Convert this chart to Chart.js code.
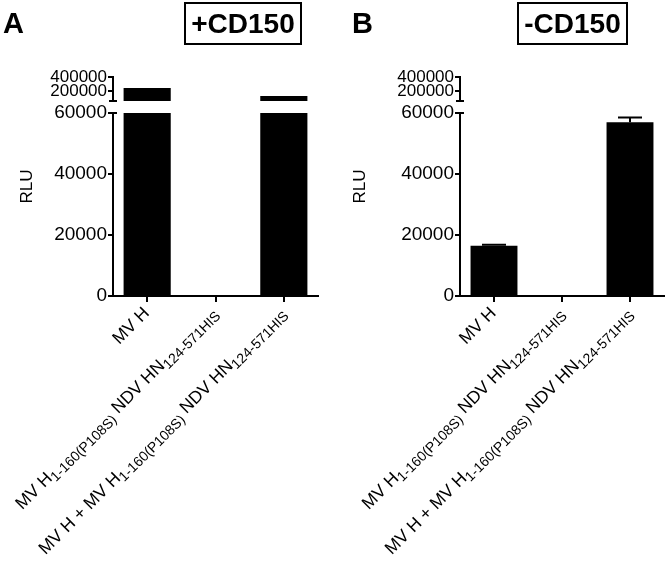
<!DOCTYPE html>
<html lang="en">
<head>
<meta charset="utf-8">
<title>RLU +CD150 / -CD150</title>
<script src="https://cdn.jsdelivr.net/npm/chart.js@4"></script>
<style>
  body { margin: 0; background: #fff; font-family: 'Liberation Sans', Arial, sans-serif; }
  #wrap { position: relative; width: 666px; height: 564px; overflow: hidden; }
  .panel { position: absolute; top: 0; width: 333px; height: 564px; }
  .letter { position: absolute; font-weight: bold; font-size: 29px; line-height: 28px; z-index: 2; }
  .tag {
    position: absolute; top: 2px; height: 43px; box-sizing: border-box;
    border: 2px solid #000; font-weight: bold; font-size: 28px;
    display: flex; align-items: center; justify-content: center; z-index: 2;
  }
</style>
</head>
<body>
<div id="wrap">
  <div class="panel" style="left:0"><canvas id="chartA" width="333" height="564"></canvas></div>
  <div class="panel" style="left:333px"><canvas id="chartB" width="333" height="564"></canvas></div>
  <div class="letter" style="left:3px; top:9px">A</div>
  <div class="tag" style="left:184px; width:118px">+CD150</div>
  <div class="letter" style="left:352px; top:9px">B</div>
  <div class="tag" style="left:517px; width:111px">-CD150</div>
</div>

<script>
  // categories, each split into [text, isSubscript] parts
  const categories = [
    'MV H',
    'MV H1-160(P108S) NDV HN124-571HIS',
    'MV H + MV H1-160(P108S) NDV HN124-571HIS'
  ];
  const categoryParts = [
    [['MV H', 0]],
    [['MV H', 0], ['1-160(P108S)', 1], [' NDV HN', 0], ['124-571HIS', 1]],
    [['MV H + MV H', 0], ['1-160(P108S)', 1], [' NDV HN', 0], ['124-571HIS', 1]]
  ];

  const rluWithCD150 = [245000, 0, 130000];
  const errWithCD150 = [0, 0, 0];
  const rluWithoutCD150 = [16500, 0, 57000];
  const errWithoutCD150 = [300, 0, 1500];

  const yTicks = [0, 20000, 40000, 60000, 200000, 400000];
  const breakValue = 60000;
  const yMax = 400000;

  // pixel split of the broken axis: lower part, gap, upper part
  const LOW_PX = 183, GAP_PX = 12, UP_PX = 24;
  const FONT = "'Liberation Sans', Arial, sans-serif";
  const MAIN_SIZE = 17.5, SUB_SIZE = 14;

  class BrokenScale extends Chart.LinearScale {
    buildTicks() {
      return yTicks.map(v => ({ value: v }));
    }
    segs() {
      const h = this.bottom - this.top;
      const k = h / (LOW_PX + GAP_PX + UP_PX);
      return { low: LOW_PX * k, gap: GAP_PX * k, up: UP_PX * k };
    }
    getPixelForValue(v) {
      if (v === null || v === undefined || isNaN(v)) return NaN;
      const s = this.segs();
      if (v <= breakValue) return this.bottom - (v / breakValue) * s.low;
      return this.bottom - s.low - s.gap - ((v - breakValue) / (yMax - breakValue)) * s.up;
    }
    getValueForPixel(p) {
      const s = this.segs();
      const d = this.bottom - p;
      if (d <= s.low) return d / s.low * breakValue;
      return breakValue + (d - s.low - s.gap) / s.up * (yMax - breakValue);
    }
  }
  BrokenScale.id = 'broken';
  BrokenScale.defaults = Chart.LinearScale.defaults;
  Chart.register(BrokenScale);

  function drawCatLabel(ctx, parts, x, y) {
    ctx.save();
    ctx.translate(x, y);
    ctx.rotate(-Math.PI / 4);
    ctx.fillStyle = '#000';
    ctx.textAlign = 'left';
    ctx.textBaseline = 'alphabetic';
    const widths = parts.map(([t, sub]) => {
      ctx.font = (sub ? SUB_SIZE : MAIN_SIZE) + 'px ' + FONT;
      return ctx.measureText(t).width;
    });
    let cx = -widths.reduce((a, b) => a + b, 0);
    parts.forEach(([t, sub], i) => {
      ctx.font = (sub ? SUB_SIZE : MAIN_SIZE) + 'px ' + FONT;
      ctx.fillText(t, cx, sub ? 4 : 0);
      cx += widths[i];
    });
    ctx.restore();
  }

  function makePanel(id, values, errors, yAxisWidth, padRight) {
    const panelPlugin = {
      id: 'panelExtras',
      afterDatasetsDraw(chart) {
        const ctx = chart.ctx;
        const y = chart.scales.y;
        const area = chart.chartArea;
        const s = y.segs();
        const lowTop = y.bottom - s.low;
        const upBottom = lowTop - s.gap;
        // white gap across the bars
        ctx.save();
        ctx.fillStyle = '#fff';
        ctx.fillRect(area.left + 1, upBottom, area.right - area.left, lowTop - upBottom);
        // error bars (upper half)
        const meta = chart.getDatasetMeta(0);
        ctx.strokeStyle = '#000';
        ctx.lineWidth = 2;
        values.forEach((v, i) => {
          if (!errors[i]) return;
          const bar = meta.data[i];
          const yTop = y.getPixelForValue(v + errors[i]);
          const yv = y.getPixelForValue(v);
          ctx.beginPath();
          ctx.moveTo(bar.x, yv);
          ctx.lineTo(bar.x, yTop);
          ctx.moveTo(bar.x - 12, yTop);
          ctx.lineTo(bar.x + 12, yTop);
          ctx.stroke();
        });
        // broken y axis segments
        const ax = area.left;
        ctx.beginPath();
        ctx.moveTo(ax, y.bottom + 1);
        ctx.lineTo(ax, lowTop);
        ctx.moveTo(ax - 4, lowTop);
        ctx.lineTo(ax + 4, lowTop);
        ctx.moveTo(ax, y.getPixelForValue(yMax) - 1);
        ctx.lineTo(ax, upBottom);
        ctx.moveTo(ax - 4, upBottom);
        ctx.lineTo(ax + 4, upBottom);
        ctx.stroke();
        ctx.restore();
      },
      afterDraw(chart) {
        const x = chart.scales.x;
        const area = chart.chartArea;
        categoryParts.forEach((parts, i) => {
          drawCatLabel(chart.ctx, parts, x.getPixelForValue(i) + 3, area.bottom + 18);
        });
      }
    };

    return new Chart(document.getElementById(id), {
      type: 'bar',
      data: {
        labels: categories,
        datasets: [{
          data: values,
          backgroundColor: '#000',
          borderWidth: 0,
          barPercentage: 0.69,
          categoryPercentage: 1
        }]
      },
      options: {
        responsive: false,
        animation: false,
        devicePixelRatio: 1,
        layout: { padding: { top: 77, right: padRight, left: 0, bottom: 0 } },
        plugins: { legend: { display: false }, tooltip: { enabled: false } },
        scales: {
          x: {
            offset: true,
            border: { display: true, color: '#000', width: 2 },
            grid: { display: true, offset: false, drawOnChartArea: false, drawTicks: true, tickLength: 6, color: '#000', lineWidth: 2 },
            ticks: { display: false },
            afterFit: s => { s.height = 268; }
          },
          y: {
            type: 'broken',
            min: 0,
            max: yMax,
            border: { display: false },
            grid: { display: true, drawOnChartArea: false, drawTicks: true, tickLength: 5, color: '#000', lineWidth: 2 },
            ticks: {
              autoSkip: false,
              padding: 1,
              color: '#000',
              callback: v => String(v),
              font: c => ({ family: FONT, size: c.tick && c.tick.value > breakValue ? 17 : 19 })
            },
            title: {
              display: true,
              text: 'RLU',
              color: '#000',
              font: { family: FONT, size: 17 },
              padding: { top: 17, bottom: 0 }
            },
            afterFit: s => { s.width = yAxisWidth; }
          }
        }
      },
      plugins: [panelPlugin]
    });
  }

  makePanel('chartA', rluWithCD150, errWithCD150, 113, 15);
  makePanel('chartB', rluWithoutCD150, errWithoutCD150, 127, 2);
</script>
</body>
</html>
